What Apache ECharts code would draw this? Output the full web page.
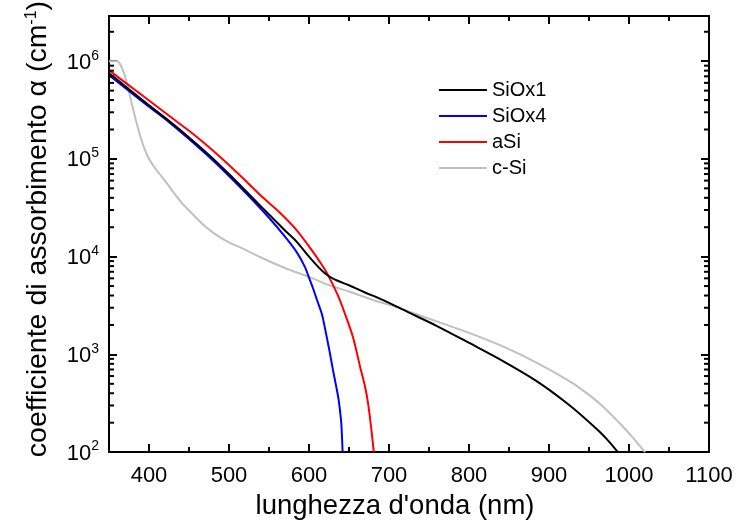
<!DOCTYPE html>
<html>
<head>
<meta charset="utf-8">
<script src="https://cdn.jsdelivr.net/npm/echarts@6/dist/echarts.min.js"></script>
<style>
  html, body { margin: 0; padding: 0; background: #fff; }
  #chart { width: 737px; height: 525px; }
</style>
</head>
<body>
<div id="chart"></div>
<script>
// Absorption coefficient (cm^-1) versus wavelength (nm)
const sioX1Wl = [350, 360, 375, 400, 425, 450, 475, 500, 525, 550, 570, 585, 600, 610, 617, 625, 635, 650, 670, 689, 709, 722, 760, 801, 843, 885, 926, 960, 975, 986];
const sioX1Alpha = [7.5e5, 6.5e5, 5.15e5, 3.54e5, 2.45e5, 1.66e5, 1.1e5, 7.0e4, 4.35e4, 2.7e4, 1.85e4, 1.41e4, 1.0e4, 8.1e3, 7.1e3, 6.3e3, 5.7e3, 5.1e3, 4.3e3, 3.7e3, 3.1e3, 2.75e3, 1.95e3, 1.3e3, 850, 530, 300, 171, 128, 100];

const sioX4Wl = [350, 360, 375, 400, 425, 450, 475, 500, 525, 550, 570, 585, 595, 600, 605, 610, 616, 620, 625, 630, 634, 637, 640, 641, 642];
const sioX4Alpha = [7.2e5, 6.2e5, 4.95e5, 3.42e5, 2.38e5, 1.6e5, 1.05e5, 6.7e4, 4.15e4, 2.5e4, 1.6e4, 1.1e4, 7.8e3, 6.1e3, 4.75e3, 3.6e3, 2.6e3, 1.85e3, 1.15e3, 690, 470, 345, 215, 160, 100];

const aSiWl = [350, 360, 375, 387, 400, 428, 450, 470, 490, 512, 540, 564, 585, 605, 615, 622, 635, 645, 655, 664, 670, 674, 678, 681];
const aSiAlpha = [8.1e5, 7.0e5, 5.66e5, 4.77e5, 3.96e5, 2.65e5, 1.94e5, 1.43e5, 1.03e5, 7.0e4, 4.2e4, 2.8e4, 1.85e4, 1.12e4, 8.5e3, 6.9e3, 4.2e3, 2.6e3, 1.5e3, 740, 470, 310, 170, 100];

const cSiWl = [350, 360, 365, 370, 376, 382, 386, 390, 394, 399, 405, 410, 420, 441, 455, 470, 485, 500, 516, 540, 570, 600, 628, 650, 680, 709, 730, 765, 801, 843, 885, 926, 950, 968, 989, 1005, 1020];
const cSiAlpha = [1.0e6, 1.0e6, 9.0e5, 7.0e5, 4.5e5, 2.8e5, 2.1e5, 1.62e5, 1.3e5, 1.04e5, 8.6e4, 7.6e4, 5.95e4, 3.55e4, 2.7e4, 2.05e4, 1.65e4, 1.4e4, 1.22e4, 9.8e3, 7.65e3, 6.2e3, 5.0e3, 4.4e3, 3.6e3, 3.05e3, 2.65e3, 2.1e3, 1.65e3, 1.2e3, 820, 530, 385, 290, 195, 140, 100];

const seriesNames = ['SiOx1', 'SiOx4', 'aSi', 'c-Si'];

const xMin = 350, xMax = 1100, xStep = 100;
const yMin = 100, yMax = 2.9e6;

const FONT = '"Liberation Sans", Arial, sans-serif';

function pairs(xs, ys) { return xs.map((x, i) => [x, ys[i]]); }

// minor ticks of the log axis: 2..9 in each decade
const minorYTicks = [];
for (let e = 2; e <= 6; e++) {
  for (let m = 2; m <= 9; m++) {
    const v = m * Math.pow(10, e);
    if (v < yMax) minorYTicks.push([xMin, v]);
  }
}
// minor ticks of the wavelength axis, half way between labelled ticks
const minorXTicks = [];
for (let x = 450; x < xMax; x += xStep) minorXTicks.push([x, yMin]);

const chart = echarts.init(document.getElementById('chart'), null, { renderer: 'canvas' });

const axisLineStyle = { color: '#000', width: 2 };
const MINOR = 5;

function lineSeries(name, data, color) {
  return {
    name, type: 'line', data, showSymbol: false, symbol: 'none',
    smooth: 0.3,
    lineStyle: { color, width: 2 }, itemStyle: { color },
    xAxisIndex: 0, yAxisIndex: 0, z: 3
  };
}

const option = {
  animation: false,
  backgroundColor: '#fff',
  textStyle: { fontFamily: FONT },
  grid: { left: 109, right: 28, top: 16, bottom: 64, containLabel: false },
  legend: {
    data: seriesNames,
    orient: 'vertical',
    left: 434, top: 75,
    icon: 'rect', itemWidth: 48, itemHeight: 2, itemGap: 6,
    textStyle: { fontSize: 20, color: '#000', fontFamily: FONT }
  },
  xAxis: [
    {
      type: 'value', min: xMin, max: xMax, splitNumber: 7, minInterval: xStep, maxInterval: xStep,
      position: 'bottom',
      name: "lunghezza d'onda (nm)", nameLocation: 'middle', nameGap: 34,
      nameTextStyle: { fontSize: 27.5, color: '#000', fontFamily: FONT, padding: [0, 28, 0, 0] },
      axisLine: { show: true, onZero: false, lineStyle: axisLineStyle },
      axisTick: { show: true, inside: true, length: 8, lineStyle: axisLineStyle },
      axisLabel: { fontSize: 22, color: '#000', margin: 13, fontFamily: FONT, showMinLabel: false,
        formatter: v => (v % xStep === 0 ? String(v) : '') },
      splitLine: { show: false }
    },
    {
      type: 'value', min: xMin, max: xMax, splitNumber: 7, minInterval: xStep, maxInterval: xStep,
      position: 'top',
      axisLine: { show: true, onZero: false, lineStyle: axisLineStyle },
      axisTick: { show: true, inside: true, length: 8, lineStyle: axisLineStyle },
      axisLabel: { show: false }, splitLine: { show: false }
    }
  ],
  yAxis: [
    {
      type: 'log', logBase: 10, min: yMin, max: yMax, position: 'left',
      name: 'coefficiente di assorbimento α (cm{s|-1})',
      nameLocation: 'middle', nameGap: 56, nameRotate: 90,
      nameTextStyle: { fontSize: 28.5, color: '#000', fontFamily: FONT, padding: [0, 0, 0, 10],
        rich: { s: { fontSize: 16, verticalAlign: 'top', fontFamily: FONT, color: '#000' } } },
      axisLine: { show: true, onZero: false, lineStyle: axisLineStyle },
      axisTick: { show: true, inside: true, length: 8, lineStyle: axisLineStyle },
      axisLabel: {
        margin: 10, color: '#000', fontFamily: FONT, showMaxLabel: false,
        formatter: v => {
          const e = Math.round(Math.log10(v));
          if (Math.abs(v - Math.pow(10, e)) > 1e-6 * v) return '';
          return '{b|10}{sup|' + e + '}';
        },
        rich: {
          b: { fontSize: 22, lineHeight: 25, verticalAlign: 'bottom', color: '#000', fontFamily: FONT },
          sup: { fontSize: 14, lineHeight: 14, verticalAlign: 'top', color: '#000', fontFamily: FONT }
        }
      },
      splitLine: { show: false }
    },
    {
      type: 'log', logBase: 10, min: yMin, max: yMax, position: 'right',
      axisLine: { show: true, onZero: false, lineStyle: axisLineStyle },
      axisTick: { show: true, inside: true, length: 8, lineStyle: axisLineStyle },
      axisLabel: { show: false }, splitLine: { show: false }
    }
  ],
  series: [
    lineSeries('c-Si', pairs(cSiWl, cSiAlpha), '#c0c0c0'),
    lineSeries('SiOx4', pairs(sioX4Wl, sioX4Alpha), '#0000ff'),
    lineSeries('aSi', pairs(aSiWl, aSiAlpha), '#ff0000'),
    lineSeries('SiOx1', pairs(sioX1Wl, sioX1Alpha), '#000000'),
    {
      // log-axis minor ticks on the left and right frame edges
      name: 'minorTicksY', type: 'custom', silent: true, clip: false, z: 10,
      xAxisIndex: 0, yAxisIndex: 0,
      data: minorYTicks,
      renderItem: (params, api) => {
        const pl = api.coord([xMin, api.value(1)]);
        const pr = api.coord([xMax, api.value(1)]);
        const st = { stroke: '#000', lineWidth: 2 };
        return {
          type: 'group',
          children: [
            { type: 'line', shape: { x1: pl[0], y1: pl[1], x2: pl[0] + MINOR, y2: pl[1] }, style: st },
            { type: 'line', shape: { x1: pr[0], y1: pr[1], x2: pr[0] - MINOR, y2: pr[1] }, style: st }
          ]
        };
      }
    },
    {
      // wavelength minor ticks on the bottom and top frame edges
      name: 'minorTicksX', type: 'custom', silent: true, clip: false, z: 10,
      xAxisIndex: 0, yAxisIndex: 0,
      data: minorXTicks,
      renderItem: (params, api) => {
        const pb = api.coord([api.value(0), yMin]);
        const pt = api.coord([api.value(0), yMax]);
        const st = { stroke: '#000', lineWidth: 2 };
        return {
          type: 'group',
          children: [
            { type: 'line', shape: { x1: pb[0], y1: pb[1], x2: pb[0], y2: pb[1] - MINOR }, style: st },
            { type: 'line', shape: { x1: pt[0], y1: pt[1], x2: pt[0], y2: pt[1] + MINOR }, style: st }
          ]
        };
      }
    }
  ]
};

chart.setOption(option);
</script>
</body>
</html>
